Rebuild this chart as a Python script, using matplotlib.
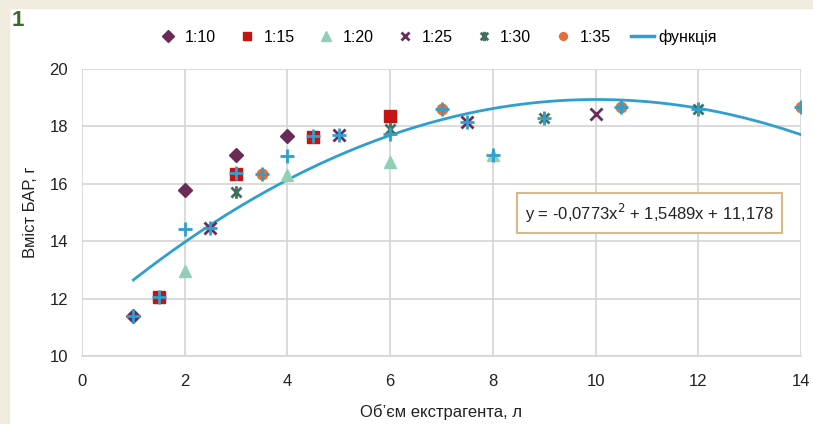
import matplotlib
matplotlib.use("Agg")
import matplotlib.pyplot as plt
import numpy as np
from matplotlib.path import Path
from matplotlib.patches import Rectangle

plt.rcParams['font.family'] = ['Liberation Sans', 'DejaVu Sans']

# ---- data ----
x_110 = [1, 2, 3, 4]
y_110 = [11.4, 15.8, 17.0, 17.65]
x_115 = [1.5, 3, 4.5, 6]
y_115 = [12.05, 16.33, 17.62, 18.37]
x_120 = [2, 4, 6, 8]
y_120 = [12.97, 16.3, 16.76, 17.0]
x_125 = [2.5, 5, 7.5, 10]
y_125 = [14.47, 17.7, 18.17, 18.43]
x_130 = [3, 6, 9, 12]
y_130 = [15.72, 17.9, 18.3, 18.6]
x_135 = [3.5, 7, 10.5, 14]
y_135 = [16.33, 18.62, 18.67, 18.67]
x_plus = [1, 1.5, 2, 2.5, 3, 3.5, 4, 4.5, 5, 6, 7, 7.5, 8, 9, 10.5, 12, 14]
y_plus = [11.4, 12.05, 14.41, 14.47, 16.36, 16.33, 16.97, 17.65, 17.7, 17.75,
          18.62, 18.17, 17.02, 18.3, 18.67, 18.6, 18.67]
trend_coef = [-0.0773, 1.5489, 11.178]
trend_range = [1, 14]
legend_labels = ['1:10', '1:15', '1:20', '1:25', '1:30', '1:35', 'функція']

W, H = 813, 424
fig = plt.figure(figsize=(W / 100, H / 100), dpi=100)
fig.patch.set_facecolor('white')
beige = '#f0ebdf'
fig.add_artist(Rectangle((0, 0), 9 / W, 1, transform=fig.transFigure, color=beige, zorder=0))
fig.add_artist(Rectangle((0, 1 - 8 / H), 1, 8 / H, transform=fig.transFigure, color=beige, zorder=0))
fig.text(12 / W, 1 - 21 / H, '1', color='#3b6b26', fontsize=16, fontweight='bold',
         va='center', ha='left')

ax = fig.add_axes([82 / W, 1 - 356 / H, (801 - 82) / W, (356 - 69) / H])
ax.set_xlim(0, 14)
ax.set_ylim(10, 20)
ax.set_xticks(range(0, 15, 2))
ax.set_yticks(range(10, 21, 2))
ax.grid(True, color='#d4d4d4', linewidth=1.2)
ax.set_axisbelow(True)
for s in ['top', 'right', 'left']:
    ax.spines[s].set_visible(False)
ax.spines['bottom'].set_color('#d4d4d4')
ax.spines['bottom'].set_linewidth(1.2)
ax.tick_params(axis='x', length=0, labelsize=12, colors='#222222', pad=13)
ax.tick_params(axis='y', length=0, labelsize=12, colors='#222222', pad=10)

star = Path([(-1, -1), (1, 1), (-1, 1), (1, -1), (0, -1.25), (0, 1.25)],
            [Path.MOVETO, Path.LINETO, Path.MOVETO, Path.LINETO, Path.MOVETO, Path.LINETO])

xs = np.linspace(trend_range[0], trend_range[1], 200)
h7, = ax.plot(xs, np.polyval(trend_coef, xs), color='#2e9fcf', lw=2, zorder=2)

h1, = ax.plot(x_110, y_110, 'D', color='#6a2c57', ms=7.5, ls='none', zorder=3)
h2, = ax.plot(x_115, y_115, 's', color='#c41414', ms=8, ls='none', zorder=3)
h3, = ax.plot(x_120, y_120, '^', color='#8fd0b6', ms=9, ls='none', zorder=3)
h4, = ax.plot(x_125, y_125, 'x', color='#6d2a5c', ms=8, mew=2, ls='none', zorder=3)
h5, = ax.plot(x_130, y_130, marker=star, color='#3f6f5f', ms=9, mew=2, ls='none', zorder=3)
h6, = ax.plot(x_135, y_135, 'o', color='#ea6d35', ms=7.5, ls='none', zorder=3)
ax.plot(x_plus, y_plus, '+', color='#2e9fcf', ms=10, mew=2, ls='none', zorder=4)

leg = fig.legend([h1, h2, h3, h4, h5, h6, h7], legend_labels, loc='center',
                 bbox_to_anchor=(437 / W, 1 - 37 / H), ncol=7, frameon=False,
                 fontsize=11.5, handlelength=1.4, handletextpad=0.3, columnspacing=1.3,
                 markerscale=0.75, labelspacing=0.2)
leg.legend_handles[6].set_linewidth(2.5)

ax.set_ylabel('Вміст БАР, г', fontsize=12, color='#222222', labelpad=8)
ax.set_xlabel('Об’єм екстрагента, л', fontsize=12, color='#222222', labelpad=11)

ax.text(11.05, 14.98, 'y = -0,0773x$^2$ + 1,5489x + 11,178', fontsize=12, ha='center', va='center',
        color='#222222', zorder=5,
        bbox=dict(boxstyle='square,pad=0.5', facecolor='white', edgecolor='#d8b98a', linewidth=1.5))

fig.savefig('out.png', dpi=100, facecolor=fig.get_facecolor())
